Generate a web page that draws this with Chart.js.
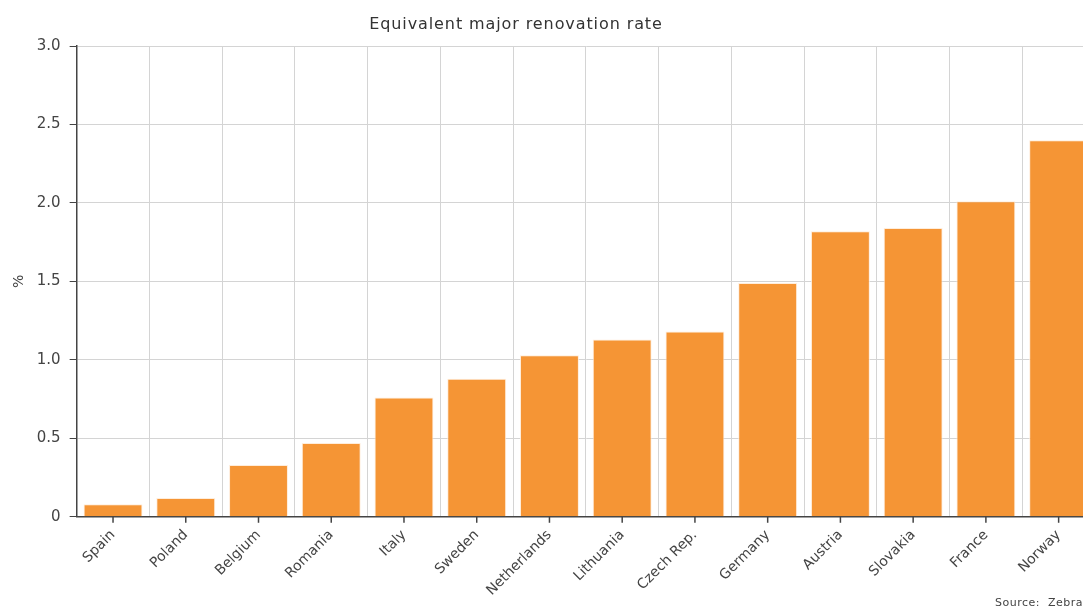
<!DOCTYPE html>
<html>
<head>
<meta charset="utf-8">
<script src="https://cdn.jsdelivr.net/npm/chart.js@4"></script>
<style>
  html, body { margin: 0; padding: 0; overflow: hidden; background: #fff; }
  #wrap { position: relative; width: 1100px; height: 610px; }
  #source { position: absolute; left: 995px; top: 596px; font: 11px "DejaVu Sans", sans-serif; color: #444; white-space: pre; letter-spacing: 0.5px; }
</style>
</head>
<body>
<div id="wrap">
  <canvas id="grafica"></canvas>
  <div id="source">Source:  Zebra</div>
</div>
<script>
// datos
const paises = ["Spain", "Poland", "Belgium", "Romania", "Italy", "Sweden", "Netherlands",
    "Lithuania", "Czech Rep.", "Germany", "Austria", "Slovakia", "France", "Norway"];
const tasa = [0.08, 0.12, 0.33, 0.47, 0.76, 0.88, 1.03, 1.13, 1.18, 1.49, 1.82, 1.84, 2.01, 2.40];
const titulo = "Equivalent major renovation rate";

const FONT = "'DejaVu Sans', Verdana, sans-serif";

// titulo y marcas del eje x en el centro de cada categoria
const extras = {
    id: "extras",
    afterDraw(c) {
        const ctx = c.ctx;
        const x = c.scales.x;
        ctx.save();
        ctx.strokeStyle = "#444";
        ctx.lineWidth = 1.5;
        paises.forEach((p, i) => {
            const px = x.getPixelForValue(i);
            ctx.beginPath();
            ctx.moveTo(px, x.top);
            ctx.lineTo(px, x.top + 6);
            ctx.stroke();
        });
        ctx.fillStyle = "#333";
        ctx.font = "16px " + FONT;
        ctx.letterSpacing = "0.9px";
        ctx.textAlign = "center";
        ctx.textBaseline = "middle";
        ctx.fillText(titulo, 516, 25);
        ctx.restore();
    }
};

new Chart(document.getElementById("grafica"), {
    type: "bar",
    data: {
        labels: paises,
        datasets: [{
            data: tasa,
            backgroundColor: "#F59535",
            borderColor: "rgba(255,235,215,0.9)",
            borderWidth: 1,
            categoryPercentage: 1,
            barPercentage: 0.81
        }]
    },
    options: {
        responsive: true,
        maintainAspectRatio: false,
        animation: false,
        layout: { padding: { top: 46, right: 5, left: 7, bottom: 1 } },
        plugins: { legend: { display: false }, tooltip: { enabled: false } },
        scales: {
            x: {
                grid: { color: "#d4d4d4", offset: true, drawTicks: false },
                border: { color: "#444", width: 1.5 },
                ticks: {
                    color: "#444", font: { family: FONT, size: 14 },
                    minRotation: 45, maxRotation: 45, padding: 10, autoSkip: false
                }
            },
            y: {
                min: 0, max: 3,
                grid: { color: "#d4d4d4", tickColor: "#444", tickLength: 7 },
                border: { color: "#444", width: 1.5 },
                ticks: {
                    stepSize: 0.5, color: "#444", font: { family: FONT, size: 15 }, padding: 9,
                    callback: v => v === 0 ? "0" : v.toFixed(1)
                },
                title: {
                    display: true, text: "%", color: "#444",
                    font: { family: FONT, size: 14 }, padding: { top: 4, bottom: 0 }
                }
            }
        }
    },
    plugins: [extras]
});
</script>
</body>
</html>
